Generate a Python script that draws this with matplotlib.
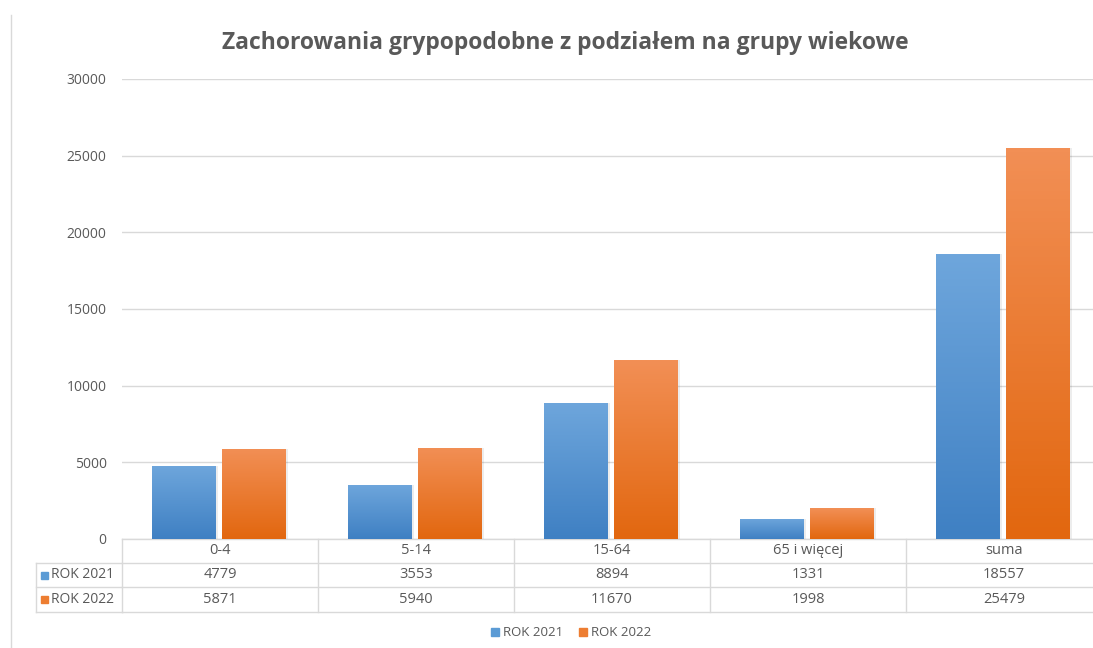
import matplotlib
matplotlib.use("Agg")
import matplotlib.pyplot as plt
import matplotlib.transforms as mtransforms
from matplotlib.patches import Rectangle, Patch
from matplotlib.lines import Line2D
from matplotlib.colors import LinearSegmentedColormap
import numpy as np

# data
categories = ['0-4', '5-14', '15-64', '65 i więcej', 'suma']
series_names = ['ROK 2021', 'ROK 2022']
rok_2021 = [4779, 3553, 8894, 1331, 18557]
rok_2022 = [5871, 5940, 11670, 1998, 25479]
y_ticks = [0, 5000, 10000, 15000, 20000, 25000, 30000]
title = 'Zachorowania grypopodobne z podziałem na grupy wiekowe'

W, H = 1093, 648
plt.rcParams['font.family'] = ['Open Sans', 'DejaVu Sans']
TXT = '#595959'
GRID = '#d9d9d9'
colors = ['#5b9bd5', '#ed7d31']
grad = [('#6ea6dc', '#3f80c3'), ('#f28f55', '#e2670f')]


def fx(px):
    return px / W


def fy(py):
    return 1 - py / H


fig = plt.figure(figsize=(W / 100, H / 100), dpi=100)
ax = fig.add_axes([fx(122), fy(539), fx(W - 122), fy(79) - fy(539)])
xmax = -0.5 + (W - 122) / 196
for s in ax.spines.values():
    s.set_visible(False)
ax.set_yticks(y_ticks)
ax.set_yticklabels([str(t) for t in y_ticks], color=TXT, fontsize=10)
ax.tick_params(axis='y', length=0, pad=11)
ax.set_xticks([])
ax.grid(axis='y', color=GRID, linewidth=1)
ax.set_axisbelow(True)

x = np.arange(len(categories))
bw = 0.325
offs = [-0.185, 0.175]
for k, vals in enumerate([rok_2021, rok_2022]):
    # soft shadow
    ax.bar(x + offs[k] + 0.01, vals, bw, color='#000000', alpha=0.07, zorder=2)
    bars = ax.bar(x + offs[k], vals, bw, color=colors[k], zorder=3, label=series_names[k])
    cmap = LinearSegmentedColormap.from_list('g%d' % k, [grad[k][1], grad[k][0]])
    for b in bars:
        x0, y0 = b.get_x(), b.get_y()
        im = ax.imshow(np.linspace(0, 1, 100).reshape(-1, 1), cmap=cmap, aspect='auto',
                       origin='lower', extent=[x0, x0 + b.get_width(), y0, y0 + b.get_height()],
                       zorder=3.5)
        im.set_clip_path(b)
ax.set_xlim(-0.5, xmax)
ax.set_ylim(0, 30000)

# data table under the chart
bt = mtransforms.blended_transform_factory(ax.transData, fig.transFigure)
rows_y = [539, 563, 587, 612]
for i, py in enumerate(rows_y):
    ax.add_line(Line2D([-0.5, xmax], [fy(py)] * 2, transform=bt, color=GRID, lw=1, clip_on=False))
    if i >= 1:
        fig.add_artist(Line2D([fx(36), fx(122)], [fy(py)] * 2, color=GRID, lw=1))
for c in range(len(categories)):
    ax.add_line(Line2D([c - 0.5] * 2, [fy(539), fy(612)], transform=bt, color=GRID, lw=1, clip_on=False))
fig.add_artist(Line2D([fx(36)] * 2, [fy(563), fy(612)], color=GRID, lw=1))

row_mid = [551, 575, 599.5]
for c, cat in enumerate(categories):
    ax.text(c, fy(row_mid[0]), cat, transform=bt, ha='center', va='center', color=TXT, fontsize=10.5)
    ax.text(c, fy(row_mid[1]), str(rok_2021[c]), transform=bt, ha='center', va='center', color=TXT, fontsize=10.5)
    ax.text(c, fy(row_mid[2]), str(rok_2022[c]), transform=bt, ha='center', va='center', color=TXT, fontsize=10.5)
for k, name in enumerate(series_names):
    py = row_mid[k + 1]
    fig.add_artist(Rectangle((fx(41), fy(py + 3.5)), fx(7), fy(0) - fy(7), color=colors[k]))
    fig.text(fx(51), fy(py), name, ha='left', va='center', color=TXT, fontsize=10)

# chart frame on the left
fig.add_artist(Line2D([fx(10.5)] * 2, [fy(15), 0], color=GRID, lw=1))

fig.text(fx(565), fy(43), title, ha='center', va='center', color=TXT, fontsize=16.5, fontweight='bold')

handles = [Patch(color=colors[0], label=series_names[0]), Patch(color=colors[1], label=series_names[1])]
leg = fig.legend(handles=handles, loc='center', bbox_to_anchor=(fx(571), fy(633)), ncol=2, frameon=False,
                 fontsize=9.5, handlelength=0.6, handleheight=0.6, handletextpad=0.3, columnspacing=1.2)
for t in leg.get_texts():
    t.set_color(TXT)

fig.savefig('out.png', dpi=100)
